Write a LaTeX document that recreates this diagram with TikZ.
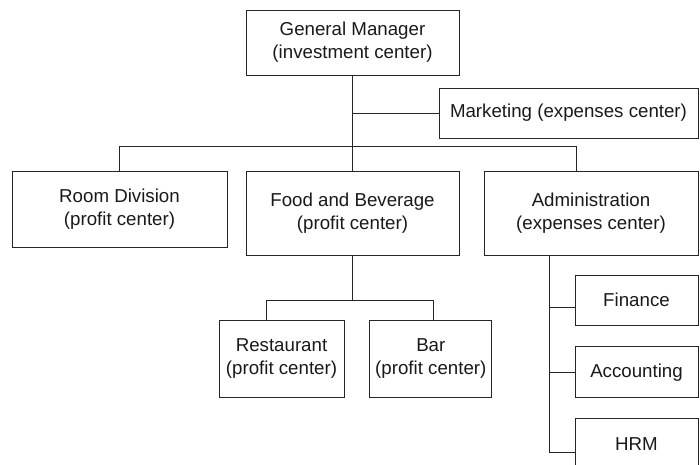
\documentclass[tikz,border=0pt]{standalone}
\usepackage{fontspec}
\setmainfont{Liberation Sans}
\usepackage{tikz}
\usetikzlibrary{positioning}
\tikzset{
	unit/.style={
		draw=black!85,
		rectangle,
		line width=0.8pt,
		align=center,
		text centered,
		inner sep=0pt,
		text=black!90,
		font=\fontsize{18.7pt}{23pt}\selectfont
	},
	big unit/.style={unit, minimum width=213pt, minimum height=84pt},
	small unit/.style={unit, minimum width=123pt, minimum height=51pt},
	link/.style={draw=black!85, line width=0.8pt},
}

\begin{document}
\begin{tikzpicture}[x=1pt,y=-1pt]
		\clip (0,0) rectangle (700,464);

		% the boxes
		\node[unit, minimum width=213pt, minimum height=65pt] (gm) at (352.5,42.5) {General Manager\\(investment center)};
		\node[unit, minimum width=259pt, minimum height=50pt] (mkt) at (568.5,113) {Marketing (expenses center)};
		\node[unit, minimum width=215pt, minimum height=76pt] (room) at (119.5,209) {Room Division\\(profit center)};
		\node[big unit] (fb) at (352.5,213) {Food and Beverage\\(profit center)};
		\node[big unit, minimum width=214pt] (adm) at (591,213) {Administration\\(expenses center)};
		\node[unit, minimum width=125pt, minimum height=77pt] (rest) at (281.5,358.5) {Restaurant\\(profit center)};
		\node[unit, minimum width=122pt, minimum height=77pt, right=25pt of rest] (bar) {Bar\\(profit center)};
		\node[small unit, minimum height=50pt] (fin) at (636.5,300) {Finance};
		\node[small unit, below=21pt of fin] (acc) {Accounting};
		\node[small unit, below=20pt of acc] (hrm) {HRM};

		% the lines
		\path (gm.south) ++(0,71) coordinate (gmjoin);
		\path (fb.south) ++(0,45) coordinate (fbjoin);
		\coordinate (admstem) at ([xshift=-42pt]adm.south);
		\coordinate (finpt) at ([yshift=-7pt]fin.west);
		\coordinate (hrmpt) at ([yshift=-8pt]hrm.west);
		\begin{scope}[link]
		\draw (gm.south) -- (fb.north);
		\draw (gm.south |- mkt.west) -- (mkt.west);
		\draw (room.north) |- (gmjoin) -| ([xshift=-15pt]adm.north);
		\draw (fb.south) -- (fbjoin);
		\draw ([xshift=-15pt]rest.north) |- (fbjoin) -| ([xshift=3pt]bar.north);
		\draw (admstem) |- (hrmpt);
		\draw (admstem |- finpt) -- (finpt);
		\draw (admstem |- acc.west) -- (acc.west);
		\end{scope}
	\end{tikzpicture}
\end{document}
